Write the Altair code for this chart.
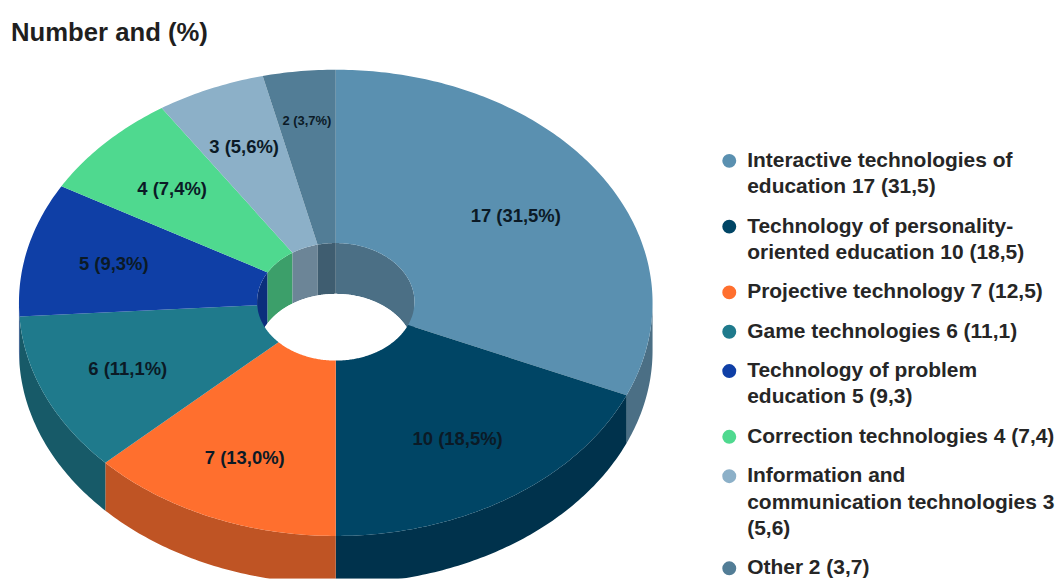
import math
import altair as alt

# ---- data ----
categories = ["Interactive technologies of education", "Technology of personality-oriented education",
              "Projective technology", "Game technologies", "Technology of problem education",
              "Correction technologies", "Information and communication technologies", "Other"]
counts = [17, 10, 7, 6, 5, 4, 3, 2]
slice_labels = ["17 (31,5%)", "10 (18,5%)", "7 (13,0%)", "6 (11,1%)", "5 (9,3%)",
                "4 (7,4%)", "3 (5,6%)", "2 (3,7%)"]
legend_lines = [
    ["Interactive technologies of", "education 17 (31,5)"],
    ["Technology of personality-", "oriented education 10 (18,5)"],
    ["Projective technology 7 (12,5)"],
    ["Game technologies 6 (11,1)"],
    ["Technology of problem", "education 5 (9,3)"],
    ["Correction technologies 4 (7,4)"],
    ["Information and", "communication technologies 3", "(5,6)"],
    ["Other 2 (3,7)"],
]
top_colors = ["#5A90B0", "#004565", "#FF6F2E", "#1F7A8C", "#0F3FA6", "#4FD98F", "#8CB0C8", "#527D96"]
wall_colors = ["#4B6F85", "#00324C", "#BF5424", "#175A68", "#0B2E7C", "#3C9F6A", "#6C8597", "#3F5D70"]

# ---- layout (pixels of the page) ----
PAGE = 8
TOP = 51            # page y of the plot's top edge
W = 1055
K = 1055 / 1047     # the page shrinks the 1055-wide drawing into its 1047-wide body
H = round((580 - TOP) * K)
CX = 337
CY_OUT, RX_OUT, RY_OUT = 303, 318, 234
CY_IN, RX_IN, RY_IN = 302, 79, 59
DEPTH_OUT, DEPTH_IN = 48, 51
LABEL_R = [0.68, 0.70, 0.725, 0.715, 0.72, 0.71, 0.73, 0.785]
LABEL_SIZE = [18.5, 18.5, 18.5, 18.5, 18.5, 18.5, 18.5, 13]
FONT = "Liberation Sans"
LEG_MARK_X, LEG_TEXT_X = 732, 750
LEG_START, LEG_LINE, LEG_GAP = 160.5, 26.5, 13


def P(x, y):
    return [(x - PAGE) * K, min((y - TOP) * K, H)]


def ell(a, rx, ry, cy, dy=0):
    return P(CX + rx * math.sin(a), cy - ry * math.cos(a) + dy)


def arc_angles(a0, a1):
    n = max(2, int(abs(a1 - a0) / math.radians(0.75)))
    return [a0 + (a1 - a0) * i / n for i in range(n + 1)]


def feature(ring, name, color):
    ring = ring + [ring[0]]
    return {"type": "Feature", "geometry": {"type": "Polygon", "coordinates": [ring]},
            "properties": {"name": name, "color": color}}


total = sum(counts)
bounds = [0.0]
for c in counts:
    bounds.append(bounds[-1] + c / total * 2 * math.pi)

outer_walls, inner_walls, tops = [], [], []
for i, name in enumerate(categories):
    a0, a1 = bounds[i], bounds[i + 1]
    # outer wall: front half only (angles between 90 and 270 degrees)
    s, e = max(a0, math.pi / 2), min(a1, 3 * math.pi / 2)
    if e > s:
        ang = arc_angles(s, e)
        ring = [ell(a, RX_OUT, RY_OUT, CY_OUT) for a in ang] + \
               [ell(a, RX_OUT, RY_OUT, CY_OUT, DEPTH_OUT) for a in reversed(ang)]
        outer_walls.append(feature(ring, name, wall_colors[i]))
    # inner wall: back half only
    for s, e in ((max(a0, 3 * math.pi / 2), a1), (a0, min(a1, math.pi / 2))):
        if e > s:
            ang = arc_angles(s, e)
            ring = [ell(a, RX_IN, RY_IN, CY_IN) for a in ang] + \
                   [ell(a, RX_IN, RY_IN, CY_IN, DEPTH_IN) for a in reversed(ang)]
            inner_walls.append(feature(ring, name, wall_colors[i]))
    # top face
    ang = arc_angles(a0, a1)
    ring = [ell(a, RX_OUT, RY_OUT, CY_OUT) for a in ang] + \
           [ell(a, RX_IN, RY_IN, CY_IN) for a in reversed(ang)]
    tops.append(feature(ring, name, top_colors[i]))

hole = [feature([ell(a, RX_IN, RY_IN, CY_IN, DEPTH_IN) for a in arc_angles(0, 2 * math.pi)],
                "hole", "#ffffff")]
# invisible frame the size of the plot, so that the projection's fit keeps 1 unit = 1 pixel
frame = [feature([[0, 0], [W, 0], [W, H], [0, H]], "frame", "#ffffff")]

label_rows = []
for i, t in enumerate(slice_labels):
    mid = (bounds[i] + bounds[i + 1]) / 2
    x, y = ell(mid, RX_OUT * LABEL_R[i], RY_OUT * LABEL_R[i], CY_OUT)
    label_rows.append({"lon": x, "lat": y, "t": t, "s": LABEL_SIZE[i] * K})

mark_rows, text_rows = [], []
y = LEG_START
for i, lines in enumerate(legend_lines):
    mx, my = P(LEG_MARK_X, y)
    mark_rows.append({"lon": mx, "lat": my, "name": categories[i], "color": top_colors[i]})
    for line in lines:
        tx, ty = P(LEG_TEXT_X, y)
        text_rows.append({"lon": tx, "lat": ty, "t": line})
        y += LEG_LINE
    y += LEG_GAP


def shapes(features, **kw):
    return alt.Chart(alt.Data(values=features)).mark_geoshape(stroke=None, clip=True, **kw).encode(
        fill=alt.Fill("properties.color:N", scale=None))


layers = [
    shapes(frame, opacity=0),
    shapes(outer_walls),
    shapes(inner_walls),
    shapes(hole),
    shapes(tops),
    alt.Chart(alt.Data(values=label_rows)).mark_text(
        font=FONT, fontWeight="bold", color="#0b1a26", align="center", baseline="middle").encode(
        longitude="lon:Q", latitude="lat:Q", text="t:N", size=alt.Size("s:Q", scale=None)),
    alt.Chart(alt.Data(values=mark_rows)).mark_point(
        filled=True, shape="circle", size=200, opacity=1).encode(
        longitude="lon:Q", latitude="lat:Q", fill=alt.Fill("color:N", scale=None)),
    alt.Chart(alt.Data(values=text_rows)).mark_text(
        font=FONT, fontWeight="bold", fontSize=21.2, color="#262626", align="left", baseline="middle").encode(
        longitude="lon:Q", latitude="lat:Q", text="t:N"),
]

chart = alt.layer(*layers).project(type="identity").properties(
    width=W, height=H, padding={"left": 0, "right": 0, "top": 9, "bottom": 0},
    title=alt.TitleParams("Number and (%)", anchor="start", font=FONT, fontSize=26, fontWeight="bold",
                          color="#1f1f1f", offset=6, dx=3),
).configure_view(stroke=None)

chart.save("out.html", embed_options={"renderer": "svg", "actions": False})
